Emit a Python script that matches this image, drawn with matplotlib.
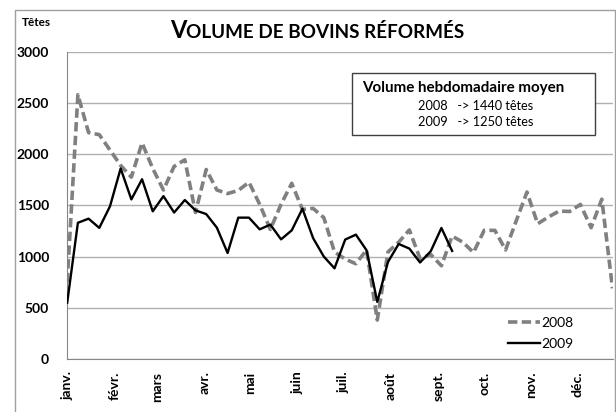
import numpy as np
import matplotlib
matplotlib.use('Agg')
import matplotlib.pyplot as plt
from matplotlib.lines import Line2D

plt.rcParams['font.family'] = ['Lato', 'DejaVu Sans']

# volumes hebdomadaires (têtes)
vol_2008 = [750, 2580, 2210, 2190, 2040, 1890, 1775, 2110, 1860, 1650,
            1880, 1945, 1430, 1850, 1650, 1615, 1645, 1726, 1510, 1265,
            1510, 1715, 1460, 1470, 1380, 1045, 975, 930, 1065, 380,
            1045, 1140, 1260, 980, 1020, 910, 1200, 1140, 1040, 1256,
            1256, 1065, 1350, 1630, 1320, 1386, 1444, 1440, 1509, 1282,
            1560, 690]
vol_2009 = [550, 1330, 1370, 1280, 1490, 1860, 1558, 1755, 1442, 1590,
            1430, 1552, 1451, 1415, 1282, 1035, 1380, 1380, 1266, 1312,
            1168, 1256, 1467, 1180, 1000, 885, 1166, 1214, 1061, 558,
            947, 1123, 1078, 942, 1052, 1279, 1055]

mois = ['janv.', 'févr.', 'mars', 'avr.', 'mai', 'juin', 'juil.', 'août',
        'sept.', 'oct.', 'nov.', 'déc.']
debut_mois = [0, 31, 59, 90, 120, 151, 181, 212, 243, 273, 304, 334]  # jour de l'annee
yticks = [0, 500, 1000, 1500, 2000, 2500, 3000]

W, H = 616, 412
fig = plt.figure(figsize=(W/100, H/100), dpi=100)
ax = fig.add_axes([67.2/W, 1-359/H, (612.5-67.2)/W, (359-51.7)/H])

sem08 = np.arange(len(vol_2008))
sem09 = np.arange(len(vol_2009))
ax.plot(sem08, vol_2008, color='#808080', lw=2.6, ls=(0, (2.6, 1.2)),
        dash_capstyle='butt', label='2008', zorder=3)
ax.plot(sem09, vol_2009, color='black', lw=1.7, label='2009', zorder=4)

ax.set_xlim(0, 51)
ax.set_ylim(0, 3000)
ax.set_yticks(yticks)
ax.set_yticklabels([str(v) for v in yticks], fontweight='bold', fontsize=10)
ax.set_xticks(np.array(debut_mois)/7)
ax.set_xticklabels(mois, rotation=90, fontweight='bold', fontsize=10, va='top')
ax.tick_params(axis='both', length=0)
ax.tick_params(axis='y', pad=13)
ax.tick_params(axis='x', pad=9)
ax.grid(axis='y', color='#b0b0b0', lw=1)
ax.set_axisbelow(True)
for s in ['top', 'right']:
    ax.spines[s].set_visible(False)
ax.spines['left'].set_color('#868686')
ax.spines['bottom'].set_color('#868686')

leg = ax.legend(loc='center left', bbox_to_anchor=(508/W, 1-333.4/H),
                bbox_transform=fig.transFigure, frameon=False, fontsize=10,
                handlelength=2.3, handletextpad=0.1, borderpad=0,
                borderaxespad=0, labelspacing=0.65)

# encadre moyenne
box = plt.Rectangle((352/W, 1-135/H), (595-352)/W, (135-73)/H,
                    transform=fig.transFigure, facecolor='white',
                    edgecolor='#404040', lw=1, zorder=5)
fig.patches.append(box)
fig.text(362/W, 1-88/H, 'Volume hebdomadaire moyen', fontsize=10.9,
         fontweight='bold', va='center', zorder=6)
fig.text(418/W, 1-106/H, '2008   -> 1440 têtes', fontsize=9.2, va='center', zorder=6)
fig.text(418/W, 1-122/H, '2009   -> 1250 têtes', fontsize=9.2, va='center', zorder=6)

# cadre du graphique
fig.add_artist(Line2D([15/W, 15/W, 614.5/W, 614.5/W], [0, 1-10/H, 1-10/H, 0],
                      transform=fig.transFigure, color='#a0a0a0', lw=1))

fig.text(22/W, 1-22/H, 'Têtes', fontsize=8.5, fontweight='bold', va='center')

# titre en petites capitales
t1 = fig.text(170/W, 1-38/H, 'V', fontsize=17, fontweight='bold', va='baseline')
fig.canvas.draw()
bb = t1.get_window_extent()
fig.text(bb.x1/W, 1-38/H, 'OLUME DE BOVINS RÉFORMÉS', fontsize=13.6,
         fontweight='bold', va='baseline')

fig.savefig('out.png', dpi=100)
